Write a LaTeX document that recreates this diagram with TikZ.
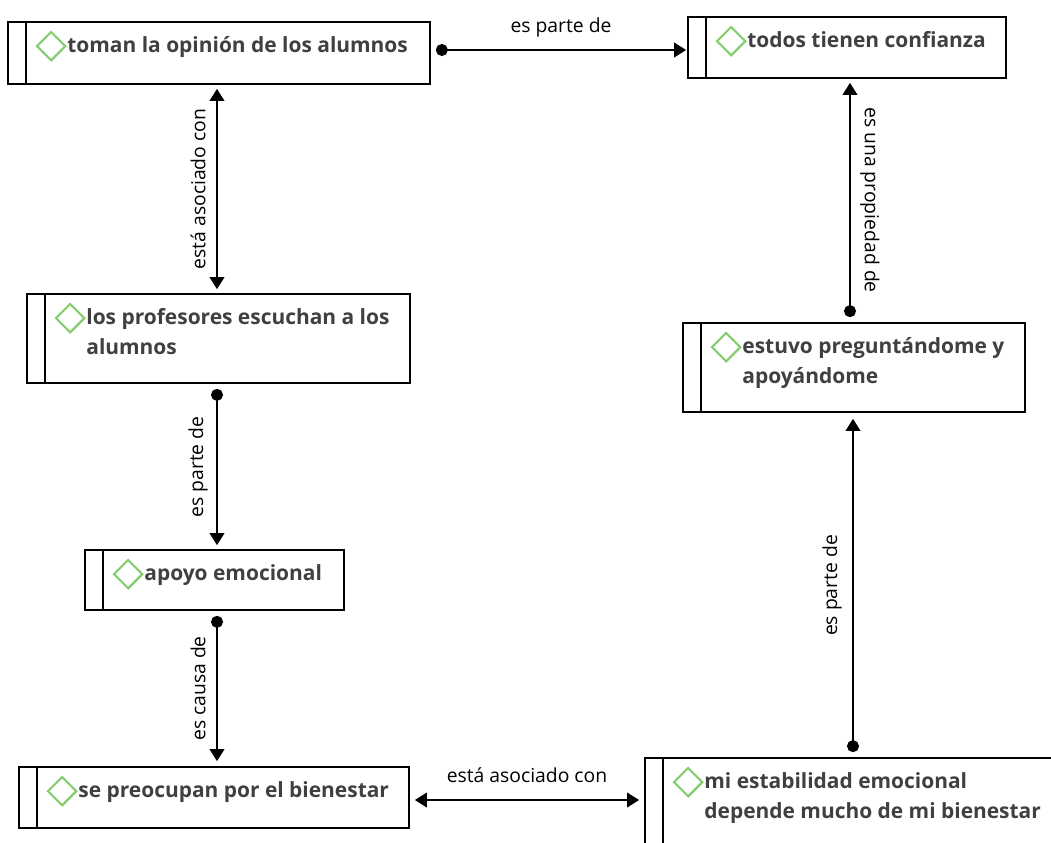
\documentclass[tikz,border=0pt]{standalone}
\usepackage{fontspec}
\setmainfont{Open Sans}
\newfontfamily\boxfont{Open Sans}
\newfontfamily\labelfont{Open Sans}
\usetikzlibrary{arrows.meta,shapes.geometric,fit,calc}
\definecolor{boxtext}{RGB}{64,64,64}
\definecolor{gemgreen}{RGB}{134,205,112}
\newcommand\pxu{0.75pt}

% concept box: name, x1, y1, x2, y2, text
\newcommand\concept[6]{%
  \node[conceptframe, fit={(#2,#3)(#4,#5)}] (#1) {};
  \draw[conceptframe] ($(#1.north west)+(19,0)$) -- ($(#1.south west)+(19,0)$);
  \node[gem] (#1-gem) at ($(#1.north west)+(44,25)$) {};
  \node[concepttext] (#1-text) at ($(#1-gem.center)+(16,-15)$) {\strut #6};
}

\begin{document}
\begin{tikzpicture}[x=0.75pt,y=-0.75pt,
  conceptframe/.style={draw=black, line width=1.3pt, inner sep=0pt},
  gem/.style={diamond, draw=gemgreen, line width=1.6pt, minimum width=22pt, minimum height=22pt, inner sep=0pt},
  concepttext/.style={font=\boxfont\bfseries\fontsize{15.7}{22.5}\selectfont, text=boxtext, align=left, inner sep=0pt, anchor=north west},
  linklabel/.style={font=\labelfont\fontsize{14.5}{17}\selectfont, text=black, inner sep=0pt},
  link/.style={draw=black, line width=1.1pt},
  dottip/.tip={Circle[length=9pt]},
  headtip/.tip={Triangle[width=11pt,length=9pt]}
]
\useasboundingbox (0,0) rectangle (1051,843);
\clip (0,0) rectangle (1051,843);

\concept{toman}{8}{22}{430}{84}{toman la opinión de los alumnos}
\concept{todos}{688}{17}{1006}{78}{todos tienen confianza}
\concept{prof}{27}{294}{410}{383}{los profesores escuchan a los\\alumnos}
\concept{estuvo}{683}{323}{1025}{412}{estuvo preguntándome y\\apoyándome}
\concept{apoyo}{85}{550}{344}{610}{apoyo emocional}
\concept{preoc}{19}{767}{409}{828}{se preocupan por el bienestar}
\concept{mi}{645}{758}{1070}{870}{mi estabilidad emocional\\depende mucho de mi bienestar}

% links
\draw[link, dottip-headtip] ($(toman.east |- 0,50)+(5,0)$) --
  node[midway, yshift={23*\pxu}, linklabel] {es parte de}
  ($(todos.west |- 0,50)+(-1,0)$);

\draw[link, headtip-headtip] ($(217,0 |- toman.south)+(0,4)$) --
  node[midway, xshift={-19*\pxu}, rotate=90, linklabel] {está asociado con}
  ($(217,0 |- prof.north)+(0,-4)$);

\draw[link, dottip-headtip] ($(217,0 |- prof.south)+(0,5)$) --
  node[midway, xshift={-19*\pxu}, rotate=90, linklabel] {es parte de}
  ($(217,0 |- apoyo.north)+(0,-4)$);

\draw[link, dottip-headtip] ($(217,0 |- apoyo.south)+(0,5)$) --
  node[midway, xshift={-19*\pxu}, rotate=90, linklabel] {es causa de}
  ($(217,0 |- preoc.north)+(0,-5)$);

\draw[link, headtip-headtip] ($(preoc.east |- 0,800)+(5,0)$) --
  node[midway, yshift={25*\pxu}, linklabel] {está asociado con}
  ($(mi.west |- 0,800)+(-5,0)$);

\draw[link, dottip-headtip] ($(853,0 |- mi.north)+(0,-5)$) --
  node[midway, xshift={-21*\pxu}, rotate=90, linklabel] {es parte de}
  ($(853,0 |- estuvo.south)+(0,6)$);

\draw[link, dottip-headtip] ($(850,0 |- estuvo.north)+(0,-5)$) --
  node[midway, xshift={20*\pxu}, rotate=-90, linklabel] {es una propiedad de}
  ($(850,0 |- todos.south)+(0,4)$);
\end{tikzpicture}
\end{document}
